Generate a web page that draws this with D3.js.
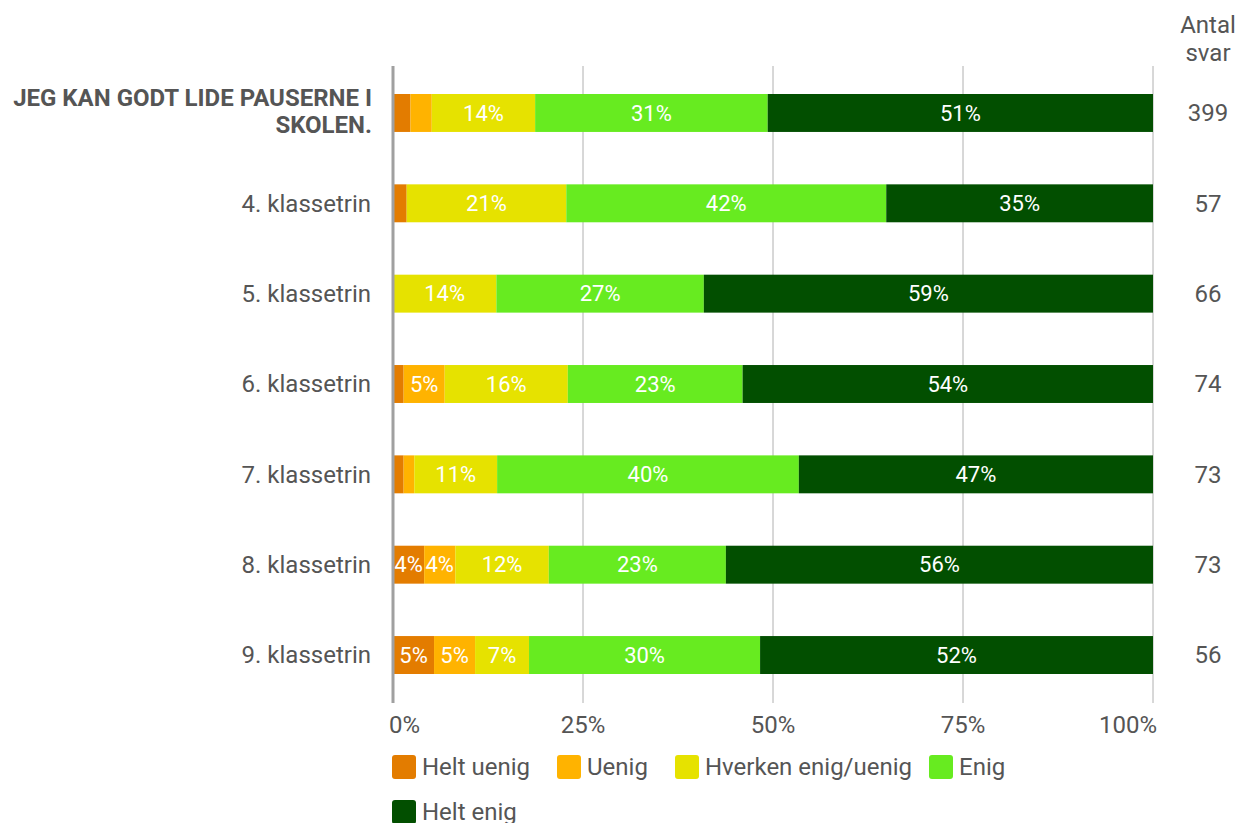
<!DOCTYPE html>
<html><head><meta charset="utf-8">
<script src="https://cdn.jsdelivr.net/npm/d3@7"></script>
<style>body{margin:0;background:#fff;font-family:Roboto,"Noto Sans",sans-serif;}</style>
</head><body>
<svg id="c" width="1237" height="823"></svg>
<script>
const categories = ["JEG KAN GODT LIDE PAUSERNE I SKOLEN.", "4. klassetrin", "5. klassetrin", "6. klassetrin", "7. klassetrin", "8. klassetrin", "9. klassetrin"];
const seriesNames = ["Helt uenig", "Uenig", "Hverken enig/uenig", "Enig", "Helt enig"];
const heltUenig = [2.3, 1.8, 0, 1.4, 1.4, 4.1, 5.4];
const uenig = [2.8, 0, 0, 5.4, 1.4, 4.1, 5.4];
const hverken = [13.6, 21.0, 13.6, 16.2, 10.9, 12.3, 7.1];
const enig = [30.6, 42.1, 27.3, 23.0, 39.7, 23.3, 30.4];
const heltEnig = [50.7, 35.1, 59.1, 54.0, 46.6, 56.2, 51.7];
const antalSvar = [399, 57, 66, 74, 73, 73, 56];
const ticks = [0, 25, 50, 75, 100];
const colors = ["#e37c00", "#ffb300", "#e6e200", "#67eb20", "#024f00"];

const values = [heltUenig, uenig, hverken, enig, heltEnig];
const svg = d3.select("#c");
const x = d3.scaleLinear().domain([0, 100]).range([393, 1153]);
const y = d3.scaleBand().domain(categories).range([67.8, 700.2]).paddingInner(0.58).paddingOuter(0.29);
const txt = "#555";

// grid
svg.append("g").selectAll("line").data(ticks.slice(1)).join("line")
  .attr("x1", d => x(d)).attr("x2", d => x(d)).attr("y1", 66).attr("y2", 703)
  .attr("stroke", "#b0b0b0").attr("stroke-width", 1);

// bars
const rows = categories.map((c, i) => {
  let acc = 0;
  return values.map((s, k) => { const v = s[i]; const seg = {cat: c, k, x0: acc, x1: acc + v, v}; acc += v; return seg; });
});
const g = svg.append("g");
rows.forEach(r => {
  g.selectAll(null).data(r).join("rect")
    .attr("x", d => x(d.x0)).attr("width", d => x(d.x1) - x(d.x0))
    .attr("y", d => y(d.cat)).attr("height", y.bandwidth())
    .attr("fill", d => colors[d.k]);
  g.selectAll(null).data(r.filter(d => d.v >= 3.5)).join("text")
    .attr("x", d => (x(d.x0) + x(d.x1)) / 2).attr("y", d => y(d.cat) + y.bandwidth() / 2)
    .attr("dy", "0.35em").attr("text-anchor", "middle").attr("fill", "#fff")
    .attr("font-size", 22).text(d => Math.round(d.v) + "%");
});

// zero axis line
svg.append("line").attr("x1", x(0)).attr("x2", x(0)).attr("y1", 66).attr("y2", 703)
  .attr("stroke", "#a0a0a0").attr("stroke-width", 3);

// x tick labels (first/last kept inside the plot edges)
svg.append("g").selectAll("text").data(ticks).join("text")
  .attr("x", (d, i) => i === 0 ? x(d) - 4 : i === ticks.length - 1 ? x(d) + 4 : x(d))
  .attr("y", 733)
  .attr("text-anchor", (d, i) => i === 0 ? "start" : i === ticks.length - 1 ? "end" : "middle")
  .attr("fill", txt).attr("font-size", 24).text(d => d + "%");

// category labels
categories.forEach((c, i) => {
  const cy = y(c) + y.bandwidth() / 2;
  if (i === 0) {
    const t = svg.append("text").attr("text-anchor", "end").attr("fill", txt)
      .attr("font-size", 24).attr("font-weight", "bold");
    t.append("tspan").attr("x", 372).attr("y", 106).text("JEG KAN GODT LIDE PAUSERNE I");
    t.append("tspan").attr("x", 372).attr("y", 133).text("SKOLEN.");
  } else {
    svg.append("text").attr("x", 371).attr("y", cy).attr("dy", "0.35em")
      .attr("text-anchor", "end").attr("fill", txt).attr("font-size", 24).text(c);
  }
  svg.append("text").attr("x", 1208).attr("y", cy).attr("dy", "0.35em")
    .attr("text-anchor", "middle").attr("fill", txt).attr("font-size", 24).text(antalSvar[i]);
});

// right header
svg.append("text").attr("x", 1208).attr("y", 33).attr("text-anchor", "middle")
  .attr("fill", txt).attr("font-size", 24).text("Antal");
svg.append("text").attr("x", 1208).attr("y", 61).attr("text-anchor", "middle")
  .attr("fill", txt).attr("font-size", 24).text("svar");

// legend
const legendPos = [[392, 767], [557, 767], [675, 767], [929, 767], [392, 812]];
seriesNames.forEach((n, k) => {
  const [lx, ly] = legendPos[k];
  svg.append("rect").attr("x", lx).attr("y", ly - 12).attr("width", 24).attr("height", 24)
    .attr("rx", 3).attr("fill", colors[k]);
  svg.append("text").attr("x", lx + 30).attr("y", ly).attr("dy", "0.35em")
    .attr("fill", txt).attr("font-size", 24).text(n);
});
</script>
</body></html>
